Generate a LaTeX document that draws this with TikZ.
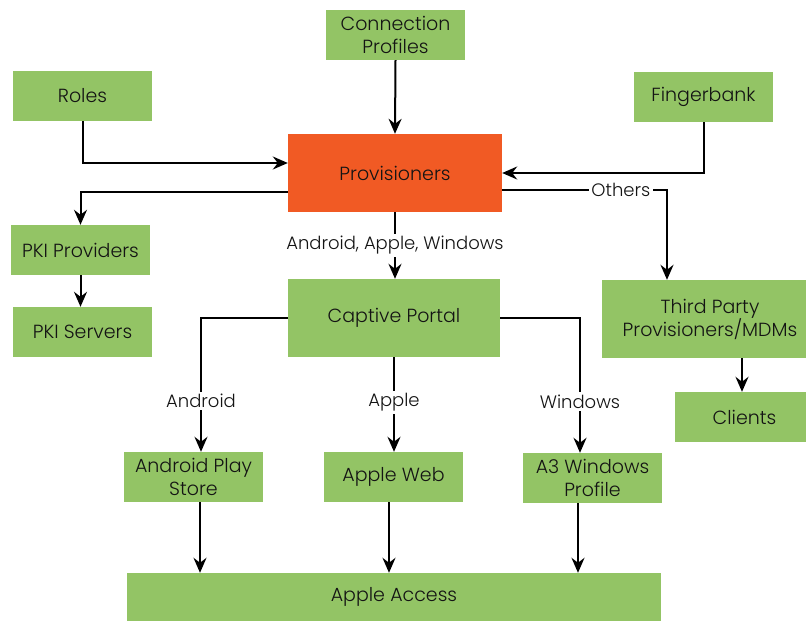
\documentclass[tikz,border=0pt]{standalone}
\usepackage{fontspec}
\setmainfont{Poppins}[UprightFont=* Light]
\usetikzlibrary{arrows.meta}
\definecolor{boxgreen}{RGB}{147,196,101}
\definecolor{boxorange}{RGB}{241,90,36}
\definecolor{txt}{RGB}{20,20,20}
\begin{document}
\begin{tikzpicture}[x=1pt,y=-1pt,
  box/.style={fill=boxgreen, draw=none, minimum width=139pt, minimum height=50pt, inner sep=0pt, align=center, font=\fontsize{19}{23}\selectfont, text=txt},
  arr/.style={draw=black, line width=2pt, -{Stealth[length=15pt,width=13pt,inset=5pt]}},
  lbl/.style={fill=white, inner sep=2.5pt, font=\fontsize{18}{22}\selectfont, text=txt}]
\useasboundingbox (0,0) rectangle (806,621);
\clip (0,0) rectangle (806,621);
\fill[white] (0,0) rectangle (806,621);

\node[box] (cp) at (395.5,35) {Connection\\Profiles};
\node[box] (roles) at (82.5,96) {Roles};
\node[box] (fb) at (703.5,97) {Fingerbank};
\node[box, fill=boxorange, minimum width=214pt, minimum height=78pt] (prov) at (395,173) {Provisioners};
\node[box] (pki) at (80.5,250) {PKI Providers};
\node[box] (pkis) at (82.5,332) {PKI Servers};
\node[box, minimum width=212pt, minimum height=78pt] (cap) at (394,318) {Captive Portal};
\node[box, minimum width=216pt, minimum height=78pt] (third) at (710,319) {Third Party\\Provisioners/MDMs};
\node[box] (clients) at (744.5,417) {Clients};
\node[box] (play) at (193.5,477) {Android Play\\Store};
\node[box] (web) at (393.5,477) {Apple Web};
\node[box] (a3) at (592.5,478) {A3 Windows\\Profile};
\node[box, minimum width=534pt, minimum height=48pt] (access) at (394,597) {Apple Access};

\draw[arr] (cp.south) -- (prov.north);
\draw[arr] (roles.south) |- (prov.west |- 0,163);
\draw[arr] (fb.south) |- (prov.east);
\draw[arr] (prov.west |- 0,192) -| (pki.north);
\draw[arr] (pki.south) -- (pki.south |- pkis.north);
\draw[arr] (prov.east |- 0,190) -| node[lbl, pos=0.36] {Others} (667,0 |- third.north);
\draw[arr] (prov.south) -- node[lbl] {Android, Apple, Windows} (prov.south |- cap.north);
\draw[arr] (cap.west) -| node[lbl, pos=0.81] {Android} (201,0 |- play.north);
\draw[arr] (cap.south) -- node[lbl, pos=0.48] {Apple} (cap.south |- web.north);
\draw[arr] (cap.east) -| node[lbl, pos=0.81] {Windows} (580,0 |- a3.north);
\draw[arr] (742,0 |- third.south) -- (742,0 |- clients.north);
\draw[arr] (200,0 |- play.south) -- (200,0 |- access.north);
\draw[arr] (389,0 |- web.south) -- (389,0 |- access.north);
\draw[arr] (578,0 |- a3.south) -- (578,0 |- access.north);
\end{tikzpicture}
\end{document}
